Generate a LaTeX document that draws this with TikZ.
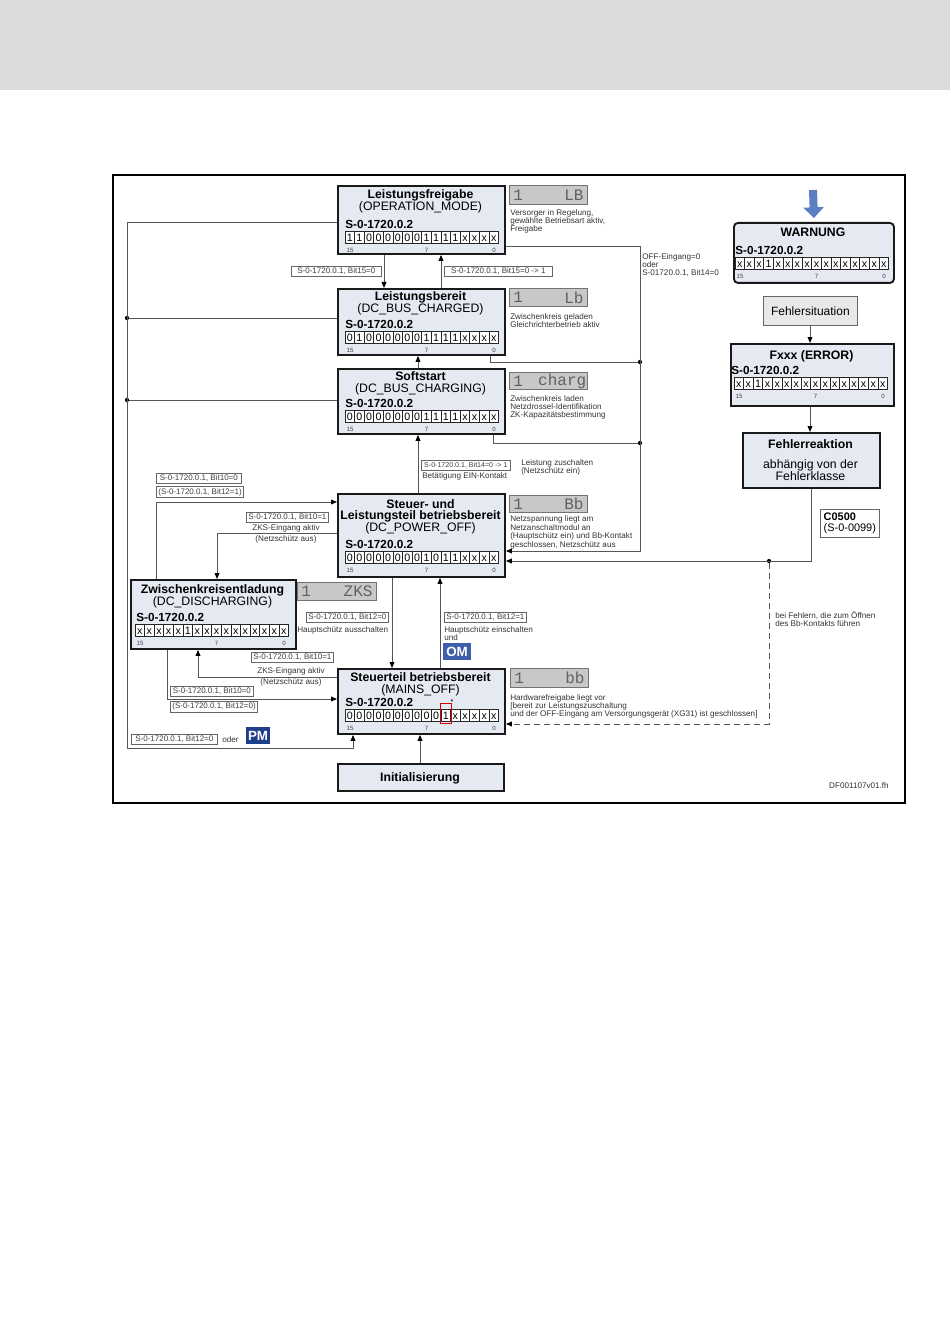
\documentclass[tikz,border=0pt]{standalone}
\usepackage{fontspec}
\setmainfont{Liberation Sans}
\newfontfamily\dispfont{Liberation Mono}
\usetikzlibrary{arrows.meta,calc}
\definecolor{stfill}{HTML}{E4E9F2}
\definecolor{hdr}{HTML}{DCDCDC}
\definecolor{dispfill}{HTML}{C8C8C8}
\definecolor{omblue}{HTML}{3E60AC}
\definecolor{pmblue}{HTML}{1F3E8C}
\definecolor{warnblue}{HTML}{5A7EC0}
\definecolor{lncol}{HTML}{555555}
\newcommand\regrow[5]{%
  \node[reglbl] (#1-reg) at (#2,#3-7) {S-0-1720.0.2};
  \foreach \v [count=\i from 0] in {#4} {
    \node[bitcell] (#1-b\i) at ({#5+(\i+0.5)*9.6},{#3+6}) {\v};
  }
  \node[bitnum] (#1-n15) at (#5+5,#3+19) {15};
  \node[bitnum] (#1-n7) at (#5+81.6,#3+19) {7};
  \node[bitnum] (#1-n0) at (#5+149,#3+19) {0};
}
\begin{document}
\begin{tikzpicture}[x=0.75pt,y=-0.75pt,
  wh/.style 2 args={minimum width=#1*0.75pt, minimum height=#2*0.75pt},
  mw/.style={minimum width=#1*0.75pt},
  state/.style={draw=black!90, line width=1.4pt, fill=stfill, anchor=north west, inner sep=0},
  ttl/.style={font=\bfseries\fontsize{9.2}{11}\selectfont, inner sep=0, anchor=base},
  sub/.style={font=\fontsize{9.2}{11}\selectfont, inner sep=0, anchor=base},
  reglbl/.style={font=\bfseries\fontsize{8.8}{10}\selectfont, inner sep=0, anchor=west},
  bitcell/.style={draw=black!85, fill=white, line width=0.5pt, minimum width=9.6*0.75pt, minimum height=12*0.75pt, inner sep=0, font=\fontsize{8}{8}\selectfont, text height=0.72em, text depth=0pt},
  bitnum/.style={font=\fontsize{4.6}{5}\selectfont, inner sep=0, text=black!75},
  desc/.style={font=\fontsize{6.1}{6}\selectfont, inner sep=0, anchor=north west, align=left, text=black!80},
  note/.style={font=\fontsize{6.1}{6.2}\selectfont, inner sep=0, text=black!80},
  cond/.style={draw=black!60, fill=white, line width=0.5pt, font=\fontsize{6}{7}\selectfont, inner xsep=1.5pt, inner ysep=1.3pt, anchor=west, text=black!75},
  disp/.style={draw=black!55, fill=dispfill, line width=0.6pt, anchor=north west, inner sep=0},
  dtxt/.style={font=\dispfont\fontsize{12}{12}\selectfont, text=black!62, inner sep=0},
  badge/.style={text=white, font=\bfseries\fontsize{10}{10}\selectfont, inner sep=0},
  conn/.style={draw=lncol, line width=0.7pt, -{Triangle[length=4.5pt,width=3.6pt,color=black]}},
  plain/.style={draw=lncol, line width=0.7pt},
  dot/.style={circle, fill=black, inner sep=0, minimum size=3.2pt}
]
\useasboundingbox (0,0) rectangle (950,1344);
\fill[hdr] (0,0) rectangle (950,90);
\draw[line width=1.5pt] (113,175) rectangle (905,803);

% ---------- state boxes ----------
\node[state, wh={167}{68}] (lf) at (337,185) {};
\node[ttl] (lf-t) at (420.5,198.3) {Leistungsfreigabe};
\node[sub] (lf-s) at (420.5,210.3) {(OPERATION\_MODE)};
\regrow{lf}{345}{231}{1,1,0,0,0,0,0,0,1,1,1,1,x,x,x,x}{345}

\node[state, wh={167}{66}] (lb) at (337,288) {};
\node[ttl] (lb-t) at (420.5,300.9) {Leistungsbereit};
\node[sub] (lb-s) at (420.5,312.9) {(DC\_BUS\_CHARGED)};
\regrow{lb}{345}{331}{0,1,0,0,0,0,0,0,1,1,1,1,x,x,x,x}{345}

\node[state, wh={167}{65}] (ss) at (337,368) {};
\node[ttl] (ss-t) at (420.5,380.3) {Softstart};
\node[sub] (ss-s) at (420.5,392.3) {(DC\_BUS\_CHARGING)};
\regrow{ss}{345}{410}{0,0,0,0,0,0,0,0,1,1,1,1,x,x,x,x}{345}

\node[state, wh={167}{83}] (sl) at (337,493) {};
\node[ttl] (sl-t1) at (420.5,508) {Steuer- und};
\node[ttl] (sl-t2) at (420.5,519.7) {Leistungsteil betriebsbereit};
\node[sub] (sl-s) at (420.5,531) {(DC\_POWER\_OFF)};
\regrow{sl}{345}{551}{0,0,0,0,0,0,0,0,1,0,1,1,x,x,x,x}{345}

\node[state, wh={165}{69}] (zk) at (130,579) {};
\node[ttl] (zk-t) at (212.5,593) {Zwischenkreisentladung};
\node[sub] (zk-s) at (212.5,605.5) {(DC\_DISCHARGING)};
\regrow{zk}{136}{624}{x,x,x,x,x,1,x,x,x,x,x,x,x,x,x,x}{135}

\node[state, wh={167}{65}] (mo) at (337,668) {};
\node[ttl] (mo-t) at (420.5,681.7) {Steuerteil betriebsbereit};
\node[sub] (mo-s) at (420.5,693.3) {(MAINS\_OFF)};
\regrow{mo}{345}{709}{0,0,0,0,0,0,0,0,0,0,1,x,x,x,x,x}{345}
\draw[red!85!black, line width=0.6pt] ([yshift=3.8pt]mo-b10.north west) rectangle ([yshift=-1.5pt]mo-b10.south east);
\node[font=\fontsize{5.5}{6}\selectfont, inner sep=0] (mo-ast) at (452,701.5) {*};

\node[state, wh={166}{27}] (init) at (337,763) {};
\node[ttl] (init-t) at (420,781.5) {Initialisierung};

% ---------- right column ----------
\node[state, rounded corners=3pt, wh={160}{60}] (warn) at (733,222) {};
\node[ttl] (warn-t) at (813,236.5) {WARNUNG};
\regrow{wn}{735}{257}{x,x,x,1,x,x,x,x,x,x,x,x,x,x,x,x}{735}

\node[draw=black!60, fill=black!9, line width=0.6pt, anchor=north west, wh={94}{29}, inner sep=0, font=\fontsize{9}{10}\selectfont] (fs) at (763,296) {Fehlersituation};

\node[state, wh={163}{62}] (err) at (730,343) {};
\node[ttl] (err-t) at (811.5,359) {Fxxx (ERROR)};
\regrow{er}{731}{377}{x,x,1,x,x,x,x,x,x,x,x,x,x,x,x,x}{734}

\node[state, wh={137}{55}] (fr) at (742,432) {};
\node[ttl] (fr-t) at (810.5,448.3) {Fehlerreaktion};
\node[sub] (fr-s1) at (810.5,468.3) {abhängig von der};
\node[sub] (fr-s2) at (810.5,480.5) {Fehlerklasse};

\node[draw=black!60, fill=white, line width=0.5pt, anchor=north west, wh={59}{28}, inner sep=2pt, align=left, font=\fontsize{8.2}{8.6}\selectfont] (c05) at (820,509) {\textbf{C0500}\\(S-0-0099)};

\coordinate (wsrc) at (813,190);
\draw[warnblue, line width=6pt, -{Triangle[length=8pt,width=15pt]}] (wsrc) -- ([yshift=3pt]warn.north);

% ---------- display boxes ----------
\node[disp, wh={78}{19}] (lfd) at (509,185) {};
\node[dtxt, anchor=west] (lfd1) at ([xshift=3pt]lfd.west) {1};
\node[dtxt, anchor=east] (lfd2) at ([xshift=-3pt]lfd.east) {LB};
\node[disp, wh={78}{18}] (lbd) at (509,288) {};
\node[dtxt, anchor=west] (lbd1) at ([xshift=3pt]lbd.west) {1};
\node[dtxt, anchor=east] (lbd2) at ([xshift=-3pt]lbd.east) {Lb};
\node[disp, wh={78}{17}] (ssd) at (509,372) {};
\node[dtxt, anchor=west] (ssd1) at ([xshift=3pt]ssd.west) {1};
\node[dtxt, anchor=east] (ssd2) at ([xshift=-1pt]ssd.east) {charg};
\node[disp, wh={78}{17}] (sld) at (509,495) {};
\node[dtxt, anchor=west] (sld1) at ([xshift=3pt]sld.west) {1};
\node[dtxt, anchor=east] (sld2) at ([xshift=-3pt]sld.east) {Bb};
\node[disp, wh={79}{18}] (zkd) at (297,582) {};
\node[dtxt, anchor=west] (zkd1) at ([xshift=3pt]zkd.west) {1};
\node[dtxt, anchor=east] (zkd2) at ([xshift=-3pt]zkd.east) {ZKS};
\node[disp, wh={78}{19}] (mod) at (510,668) {};
\node[dtxt, anchor=west] (mod1) at ([xshift=3pt]mod.west) {1};
\node[dtxt, anchor=east] (mod2) at ([xshift=-3pt]mod.east) {bb};

% ---------- descriptions ----------
\node[desc] (lf-d) at (510,209.5) {Versorger in Regelung,\\gewählte Betriebsart aktiv,\\Freigabe};
\node[desc] (lb-d) at (510,313.5) {Zwischenkreis geladen\\Gleichrichterbetrieb aktiv};
\node[desc] (ss-d) at (510,395.5) {Zwischenkreis laden\\Netzdrossel-Identifikation\\ZK-Kapazitätsbestimmung};
\node[desc, font=\fontsize{6.1}{6.5}\selectfont] (sl-d) at (510,515.5) {Netzspannung liegt am\\Netzanschaltmodul an\\(Hauptschütz ein) und Bb-Kontakt\\geschlossen, Netzschütz aus};
\node[desc] (mo-d) at (510,694.5) {Hardwarefreigabe liegt vor\\{[}bereit zur Leistungszuschaltung\\und der OFF-Eingang am Versorgungsgerät (XG31) ist geschlossen{]}};
\node[desc] (off-d) at (642,253.5) {OFF-Eingang=0\\oder\\S-01720.0.1, Bit14=0};
\node[desc] (bb-d) at (775,611.5) {bei Fehlern, die zum Öffnen\\des Bb-Kontakts führen};
\node[note, anchor=east] (df) at (889,786) {DF001107v01.fh};

% ---------- condition labels ----------
\node[cond, mw=90] (c1) at (291,271) {S-0-1720.0.1, Bit15=0};
\node[cond, mw=108] (c2) at (444,271) {S-0-1720.0.1, Bit15=0 -> 1};
\node[cond, mw=89, font=\fontsize{5.3}{6}\selectfont] (c3) at (421,465.5) {S-0-1720.0.1, Bit14=0 -> 1};
\node[desc] (c3n) at (521,459.5) {Leistung zuschalten\\(Netzschütz ein)};
\node[note, anchor=west] (c3b) at (422,476.5) {Betätigung EIN-Kontakt};
\node[cond, mw=81] (c4) at (306,617) {S-0-1720.0.1, Bit12=0};
\node[note, anchor=west] (c4n) at (297,630) {Hauptschütz ausschalten};
\node[cond, mw=81] (c5) at (444,617) {S-0-1720.0.1, Bit12=1};
\node[desc] (c5n) at (444,626.5) {Hauptschütz einschalten\\und};
\node[badge, fill=omblue, wh={28}{17}] (om) at (457,651.5) {OM};
\node[cond, mw=81] (c6) at (246,517) {S-0-1720.0.1, Bit10=1};
\node[note] (c6a) at (286,528) {ZKS-Eingang aktiv};
\node[note] (c6b) at (286,539) {(Netzschütz aus)};
\node[cond, mw=85] (c7) at (156,478) {S-0-1720.0.1, Bit10=0};
\node[cond, mw=85] (c8) at (156,492) {(S-0-1720.0.1, Bit12=1)};
\node[cond, mw=82] (c9) at (251,657.5) {S-0-1720.0.1, Bit10=1};
\node[note] (c9a) at (291,671.5) {ZKS-Eingang aktiv};
\node[note] (c9b) at (291,682) {(Netzschütz aus)};
\node[cond, mw=83] (c10) at (170,691) {S-0-1720.0.1, Bit10=0};
\node[cond, mw=83] (c11) at (170,706.5) {(S-0-1720.0.1, Bit12=0)};
\node[cond, mw=86] (c12) at (131,739.5) {S-0-1720.0.1, Bit12=0};
\node[note, anchor=west] (oder) at (222,740) {oder};
\node[badge, fill=pmblue, wh={24}{17}] (pm) at (258,735.5) {PM};

% ---------- connectors ----------
\draw[conn] (384,0 |- lf.south) -- (384,0 |- lb.north);
\draw[conn] (441,0 |- lb.north) -- (441,0 |- lf.south);
\draw[conn] (418,0 |- ss.north) -- (418,0 |- lb.south);
\draw[conn] (418,0 |- sl.north) -- (418,0 |- ss.south);
\draw[conn] (392,0 |- sl.south) -- (392,0 |- mo.north);
\draw[conn] (440,0 |- mo.north) -- (440,0 |- sl.south);
\draw[conn] (sl.west |- 0,533) -| (217,0 |- zk.north);
\draw[conn] (156,0 |- zk.north) |- (sl.west |- 0,502);
\draw[conn] (mo.west |- 0,677) -| (198,0 |- zk.south);
\draw[conn] (167,0 |- zk.south) |- (mo.west |- 0,699);
\draw[conn] (420,0 |- init.north) -- (420,0 |- mo.south);

% left bus
\node[dot] (dl1) at (127,318) {};
\node[dot] (dl2) at (127,400) {};
\draw[conn] (lf.west |- 0,222) -| (127,748) -| (353,0 |- mo.south);
\draw[plain] (lb.west |- dl1) -- (dl1);
\draw[plain] (ss.west |- dl2) -- (dl2);

% right bus
\node[dot] (dr1) at (640,362) {};
\node[dot] (dr2) at (640,443) {};
\draw[conn] (lf.east |- 0,246) -| (640,551) -- (sl.east |- 0,551);
\draw[plain] (490,0 |- lb.south) |- (dr1);
\draw[plain] (493,0 |- ss.south) |- (dr2);

% error chain
\draw[conn] (810,0 |- fs.south) -- (810,0 |- err.north);
\draw[conn] (810,0 |- err.south) -- (810,0 |- fr.north);
\node[dot] (dbb) at (769,561) {};
\draw[conn] (fr.south) |- (sl.east |- 0,561);
\draw[conn, dash pattern=on 4.5pt off 3pt] (dbb) |- (mo.east |- 0,724);
\end{tikzpicture}
\end{document}
